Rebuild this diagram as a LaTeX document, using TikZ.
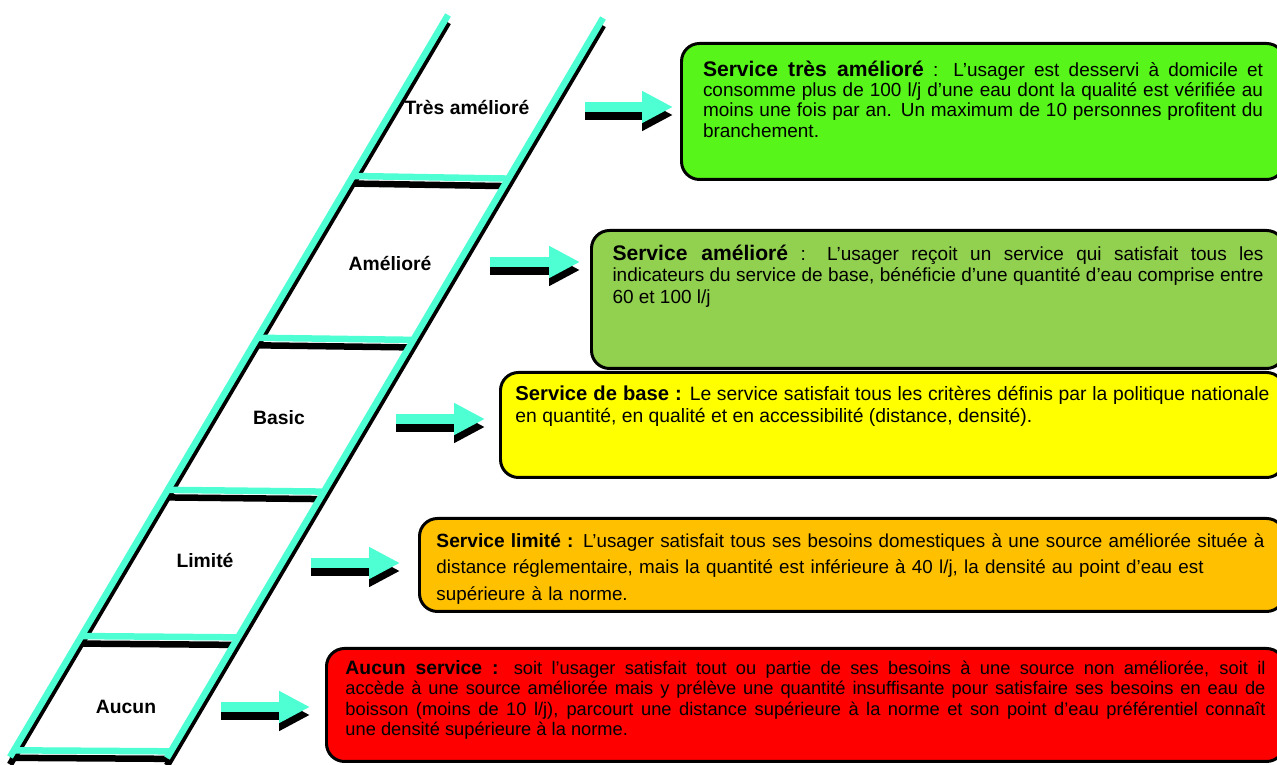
\documentclass[tikz,border=0pt]{standalone}
\usepackage{fontspec}
\setmainfont{Liberation Sans}
\usetikzlibrary{calc,arrows.meta}
\definecolor{turquoise}{RGB}{77,255,210}
\definecolor{vertvif}{RGB}{87,245,26}
\definecolor{vertclair}{RGB}{146,208,80}
\definecolor{jaune}{RGB}{255,255,0}
\definecolor{orangelim}{RGB}{255,192,0}
\definecolor{rouge}{RGB}{255,0,0}
\hyphenpenalty=10000
\tolerance=9999

\begin{document}
\begin{tikzpicture}
    \tikzset{niveau/.style={font=\fontsize{11}{13}\selectfont\bfseries},
      svc/.style={draw,line width=1.7pt,rounded corners=0.36cm,anchor=north west,inner ysep=0pt,align=justify}}
    \tikzstyle{montant}=[line width=0.13cm]
    \tikzstyle{fleche}=[-{Triangle[length=0.62cm,width=0.6cm]},line width=0.2cm]
    \useasboundingbox (0,0) rectangle (25.54,15.3);

    % echelle
    \coordinate (LH) at (8.96,15.0);
    \coordinate (LB) at (0.2,0.16);
    \coordinate (RH) at (12.06,14.94);
    \coordinate (RB) at (3.34,0.14);
    \begin{scope}[transform canvas={shift={(0,-0.15)}}]
      \draw[montant,black] (LH)--(LB);
      \draw[montant,black] (RH)--(RB);
      \foreach \t in {0.217,0.435,0.640,0.837,0.991}
        \draw[montant,black] ($(LH)!\t!(LB)+(-0.08,0)$)--($(RH)!\t!(RB)+(-0.08,0)$);
    \end{scope}
    \draw[montant,turquoise] (LH)--(LB);
    \draw[montant,turquoise] (RH)--(RB);
    \foreach \t in {0.217,0.435,0.640,0.837,0.991}
      \draw[montant,turquoise] ($(LH)!\t!(LB)$)--($(RH)!\t!(RB)$);

    \node[niveau] (tres) at (9.34,13.14) {Très amélioré};
    \node[niveau] (amel) at (7.8,10.02) {Amélioré};
    \node[niveau] (basic) at (5.58,6.94) {Basic};
    \node[niveau] (limite) at (4.1,4.08) {Limité};
    \node[niveau] (aucun) at (2.52,1.16) {Aucun};

    % fleches
    \coordinate (f1a) at (11.7,13.16);  \coordinate (f1b) at (13.46,13.16);
    \coordinate (f2a) at (9.8,10.06);   \coordinate (f2b) at (11.6,10.06);
    \coordinate (f3a) at (7.92,6.92);   \coordinate (f3b) at (9.7,6.92);
    \coordinate (f4a) at (6.22,4.04);   \coordinate (f4b) at (8.0,4.04);
    \coordinate (f5a) at (4.42,1.16);   \coordinate (f5b) at (6.2,1.16);
    \foreach \i in {1,...,5}{
      \draw[fleche,black,transform canvas={shift={(0,-0.16)}}] (f\i a)--(f\i b);
      \draw[fleche,turquoise] (f\i a)--(f\i b);
    }

    % services
    \node[svc,fill=vertvif,text width=11.2cm,inner xsep=0.43cm,text height=0.66cm,text depth=2.06cm,
      font=\fontsize{10.8}{11.5}\selectfont] (stres) at (13.6,14.46)
      {{\fontsize{12}{12}\selectfont\bfseries Service très amélioré} : L’usager est desservi à domicile et\linebreak
       consomme plus de 100 l/j d’une eau dont la qualité est vérifiée au\linebreak
       moins une fois par an. Un maximum de 10 personnes profitent du\linebreak
       branchement.};
    \node[svc,fill=vertclair,text width=13.02cm,inner xsep=0.42cm,text height=0.6cm,text depth=2.16cm,
      font=\fontsize{10.8}{12.2}\selectfont] (samel) at (11.8,10.72)
      {{\fontsize{12}{12}\selectfont\bfseries Service amélioré} : L’usager reçoit un service qui satisfait tous les\linebreak
       indicateurs du service de base, bénéficie d’une quantité d’eau comprise entre\linebreak
       60 et 100 l/j};
    \node[svc,fill=jaune,text width=15.08cm,inner xsep=0.3cm,text height=0.56cm,text depth=1.54cm,
      font=\fontsize{11}{12.5}\selectfont] (sbase) at (9.98,7.88)
      {{\fontsize{11.5}{12}\selectfont\bfseries Service de base :} Le service satisfait tous les critères définis par la politique nationale\linebreak
       en quantité, en qualité et en accessibilité (distance, densité).};
    \node[svc,fill=orangelim,text width=16.62cm,inner xsep=0.34cm,text height=0.58cm,text depth=1.28cm,
      align=left,font=\fontsize{10.7}{15}\selectfont] (slim) at (8.36,4.96)
      {{\fontsize{10.9}{12}\selectfont\bfseries Service limité :} L’usager satisfait tous ses besoins domestiques à une source améliorée située à\\
       distance réglementaire, mais la quantité est inférieure à 40 l/j, la densité au point d’eau est\\
       supérieure à la norme.};
    \node[svc,fill=rouge,text width=18.4cm,inner xsep=0.38cm,text height=0.52cm,text depth=1.74cm,
      font=\fontsize{10.4}{11.6}\selectfont] (saucun) at (6.5,2.36)
      {{\fontsize{11}{12}\selectfont\bfseries Aucun service :} soit l’usager satisfait tout ou partie de ses besoins à une source non améliorée, soit il\linebreak
       accède à une source améliorée mais y prélève une quantité insuffisante pour satisfaire ses besoins en eau de\linebreak
       boisson (moins de 10 l/j), parcourt une distance supérieure à la norme et son point d’eau préférentiel connaît\linebreak
       une densité supérieure à la norme.};
\end{tikzpicture}
\end{document}
